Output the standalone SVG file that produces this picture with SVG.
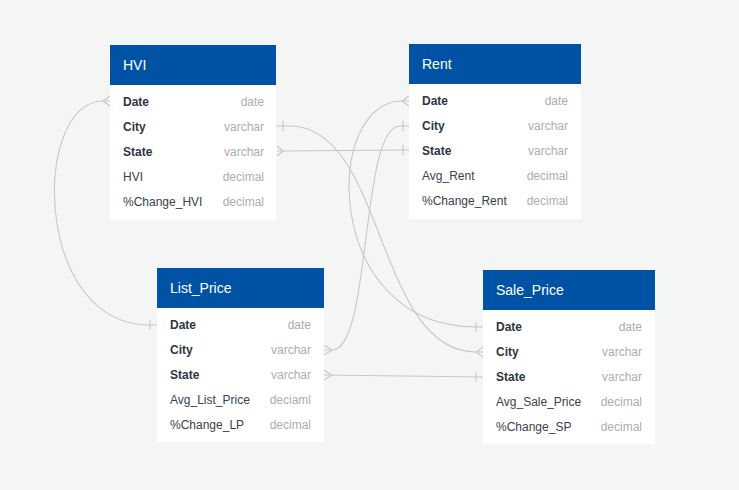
<svg xmlns="http://www.w3.org/2000/svg" width="739" height="490" viewBox="0 0 739 490">
<style>
.bg{fill:#f4f6f5}
.hd{fill:#0053a4}
.bd{fill:#ffffff}
.ht{font-family:"Liberation Sans",Arial,sans-serif;font-size:14px;fill:#ffffff}
.k{font-family:"Liberation Sans",Arial,sans-serif;font-size:12px;font-weight:bold;fill:#2f3642}
.f{font-family:"Liberation Sans",Arial,sans-serif;font-size:12px;fill:#3a414c}
.t{font-family:"Liberation Sans",Arial,sans-serif;font-size:12px;fill:#a9aeb3;text-anchor:end}
.ln{fill:none;stroke:#c6c8c8;stroke-width:1.1}
</style>
<rect class="bg" x="0" y="0" width="739" height="490"/>
<g id="connectors">
<path class="ln" d="M110,101 H103 C32,101 32,325 150,325 H157"/>
<path class="ln" d="M103,101 L110,96 M103,101 L110,106 M150,320 V330"/>
<path class="ln" d="M276,126 H290 C385,126 376,352 476,352 H483"/>
<path class="ln" d="M283,121 V131 M476,352 L483,347 M476,352 L483,357"/>
<path class="ln" d="M277,151 L409,150"/>
<path class="ln" d="M277,146 L283,151 L277,156 M403,145 V155"/>
<path class="ln" d="M409,101 H402 C322,101 322,327 476,327 H483"/>
<path class="ln" d="M402,101 L409,96 M402,101 L409,106 M476,322 V332"/>
<path class="ln" d="M409,126 H400 C360,126 372,350 332,350 H324"/>
<path class="ln" d="M403,121 V131 M332,350 L324,345 M332,350 L324,355"/>
<path class="ln" d="M324,375 L483,377"/>
<path class="ln" d="M324,370 L332,375 L324,380 M476,372 V382"/>
</g>
<g id="HVI">
<rect class="bd" x="110" y="45" width="166" height="175"/>
<rect class="hd" x="110" y="45" width="166" height="40"/>
<text class="ht" x="123" y="70">HVI</text>
<text class="k" x="123" y="105.5">Date</text><text class="t" x="264" y="105.5">date</text>
<text class="k" x="123" y="130.5">City</text><text class="t" x="264" y="130.5">varchar</text>
<text class="k" x="123" y="155.5">State</text><text class="t" x="264" y="155.5">varchar</text>
<text class="f" x="123" y="180.5">HVI</text><text class="t" x="264" y="180.5">decimal</text>
<text class="f" x="123" y="205.5">%Change_HVI</text><text class="t" x="264" y="205.5">decimal</text>
</g>
<g id="Rent">
<rect class="bd" x="409" y="44" width="172" height="175"/>
<rect class="hd" x="409" y="44" width="172" height="40"/>
<text class="ht" x="422" y="69">Rent</text>
<text class="k" x="422" y="104.5">Date</text><text class="t" x="568" y="104.5">date</text>
<text class="k" x="422" y="129.5">City</text><text class="t" x="568" y="129.5">varchar</text>
<text class="k" x="422" y="154.5">State</text><text class="t" x="568" y="154.5">varchar</text>
<text class="f" x="422" y="179.5">Avg_Rent</text><text class="t" x="568" y="179.5">decimal</text>
<text class="f" x="422" y="204.5">%Change_Rent</text><text class="t" x="568" y="204.5">decimal</text>
</g>
<g id="List_Price">
<rect class="bd" x="157" y="268" width="167" height="174"/>
<rect class="hd" x="157" y="268" width="167" height="40"/>
<text class="ht" x="170" y="293">List_Price</text>
<text class="k" x="170" y="329">Date</text><text class="t" x="311" y="329">date</text>
<text class="k" x="170" y="354">City</text><text class="t" x="311" y="354">varchar</text>
<text class="k" x="170" y="379">State</text><text class="t" x="311" y="379">varchar</text>
<text class="f" x="170" y="404">Avg_List_Price</text><text class="t" x="311" y="404">deciaml</text>
<text class="f" x="170" y="429">%Change_LP</text><text class="t" x="311" y="429">decimal</text>
</g>
<g id="Sale_Price">
<rect class="bd" x="483" y="270" width="172" height="174"/>
<rect class="hd" x="483" y="270" width="172" height="40"/>
<text class="ht" x="496" y="295">Sale_Price</text>
<text class="k" x="496" y="331">Date</text><text class="t" x="642" y="331">date</text>
<text class="k" x="496" y="356">City</text><text class="t" x="642" y="356">varchar</text>
<text class="k" x="496" y="381">State</text><text class="t" x="642" y="381">varchar</text>
<text class="f" x="496" y="406">Avg_Sale_Price</text><text class="t" x="642" y="406">decimal</text>
<text class="f" x="496" y="431">%Change_SP</text><text class="t" x="642" y="431">decimal</text>
</g>
</svg>
